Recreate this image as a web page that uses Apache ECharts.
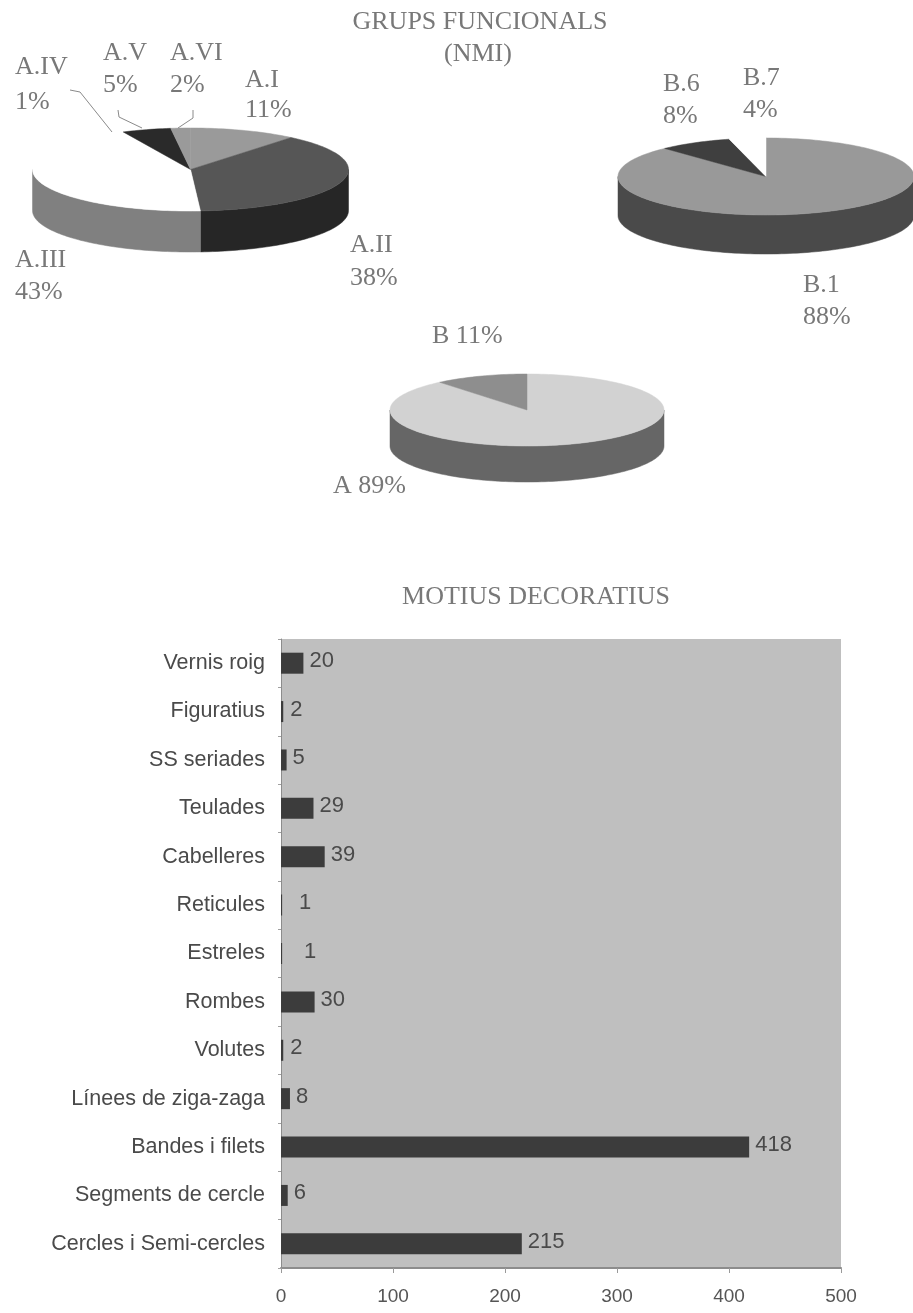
<!DOCTYPE html>
<html><head><meta charset="utf-8">
<style>html,body{margin:0;padding:0;background:#fff}#c{width:913px;height:1313px;filter:blur(.7px)}</style>
<script src="https://cdn.jsdelivr.net/npm/echarts@6/dist/echarts.min.js"></script>
</head><body><div id="c"></div>
<script>
const motiuCategories = ['Vernis roig','Figuratius','SS seriades','Teulades','Cabelleres','Reticules','Estreles','Rombes','Volutes','Línees de ziga-zaga','Bandes i filets','Segments de cercle','Cercles i Semi-cercles'];
const motiuValues = [20,2,5,29,39,1,1,30,2,8,418,6,215];
const xTicks = [0,100,200,300,400,500];

const groupANames = ['A.I','A.II','A.III','A.IV','A.V','A.VI'];
const groupAPercents = [11,38,43,1,5,2];
const groupBNames = ['B.1','B.6','B.7'];
const groupBPercents = [88,8,4];
const totalNames = ['A','B'];
const totalPercents = [89,11];

const labelLabelStyle = {fontFamily:'Liberation Serif',fontSize:26,fill:'#787878'};
const extraOffset = {'Figuratius':1,'Reticules':11,'Estreles':16,'Volutes':1};

function pieSeries(cfg, values){
  const total = values.reduce((a,b)=>a+b,0);
  return {
    type:'custom', coordinateSystem:'none', silent:true, animation:false,
    data: values.map((v,i)=>[i,v]),
    renderItem(params, api){
      const i = api.value(0);
      let before = 0; for(let k=0;k<i;k++) before += values[k];
      const a0 = cfg.start + before/total*360, a1 = a0 + api.value(1)/total*360;
      const pt = (d,dy)=>{const r=d*Math.PI/180; return [cfg.cx+cfg.rx*Math.sin(r), cfg.cy-cfg.ry*Math.cos(r)+(dy||0)];};
      const arc = (s,e,dy)=>{const out=[],n=Math.max(2,Math.ceil((e-s)/1.5)); for(let j=0;j<=n;j++) out.push(pt(s+(e-s)*j/n,dy)); return out;};
      const children = [];
      const s = Math.max(a0,90), e = Math.min(a1,270);
      if(e>s){
        children.push({type:'polygon',shape:{points:arc(s,e,0).concat(arc(s,e,cfg.depth).reverse())},style:{fill:cfg.side[i],stroke:cfg.side[i],lineWidth:.5}});
      }
      children.push({type:'polygon',shape:{points:[[cfg.cx,cfg.cy]].concat(arc(a0,a1,0))},style:{fill:cfg.top[i],stroke:cfg.top[i],lineWidth:.5}});
      return {type:'group',children};
    }
  };
}
const pieA = {cx:190.5,cy:169.5,rx:158,ry:41.5,depth:41,start:0,
  top:['#9a9a9a','#565656','#ffffff','#ffffff','#2a2a2a','#9a9a9a'],
  side:['#777','#262626','#808080','#888','#222','#777']};
const pieB = {cx:766,cy:176.5,rx:148,ry:38.5,depth:39,start:0,
  top:['#999999','#3f3f3f','#ffffff'], side:['#4a4a4a','#333','#fff']};
const pieT = {cx:527,cy:410,rx:137,ry:36,depth:36,start:0,
  top:['#d2d2d2','#8e8e8e'], side:['#666666','#555']};

function txt(x,y,t,align){return {type:'text',x,y,style:Object.assign({},labelLabelStyle,{text:t,textAlign:align||'left',textVerticalAlign:'middle'})};}
function two(x,y1,y2,name,pct){return [txt(x,y1,name),txt(x,y2,pct+'%')];}
function leader(pts){return {type:'polyline',shape:{points:pts},style:{stroke:'#8a8a8a',lineWidth:1,fill:null}};}

const graphics = [
  txt(480,22,'GRUPS FUNCIONALS','center'), txt(478,54,'(NMI)','center'),
  txt(536,597,'MOTIUS DECORATIUS','center'),
  ...two(245,80,110,groupANames[0],groupAPercents[0]),
  ...two(350,245,278,groupANames[1],groupAPercents[1]),
  ...two(15,260,292,groupANames[2],groupAPercents[2]),
  ...two(15,67,102,groupANames[3],groupAPercents[3]),
  ...two(103,53,85,groupANames[4],groupAPercents[4]),
  ...two(170,53,85,groupANames[5],groupAPercents[5]),
  ...two(803,285,317,groupBNames[0],groupBPercents[0]),
  ...two(663,84,116,groupBNames[1],groupBPercents[1]),
  ...two(743,78,110,groupBNames[2],groupBPercents[2]),
  txt(432,336,totalNames[1]+' '+totalPercents[1]+'%'),
  txt(333,486,totalNames[0]+' '+totalPercents[0]+'%'),
  leader([[70,90],[80,92],[112,132]]),
  leader([[118,110],[119,117],[142,128]]),
  leader([[193,110],[193,118],[178,128]])
];

const chart = echarts.init(document.getElementById('c'),null,{width:913,height:1313,renderer:'canvas'});
chart.setOption({
  animation:false, backgroundColor:'#fff',
  grid:{left:281,top:639,width:560,height:629,backgroundColor:'#bfbfbf',show:true,borderWidth:0},
  xAxis:{type:'value',min:0,max:500,interval:100,splitLine:{show:false},
    axisLine:{show:true,lineStyle:{color:'#8c8c8c',width:2}},
    axisTick:{show:true,length:5,lineStyle:{color:'#9a9a9a'}},
    axisLabel:{margin:19,fontFamily:'Liberation Sans',fontSize:19,color:'#555',
      customValues:xTicks,formatter:v=>String(v)}},
  yAxis:{type:'category',inverse:true,data:motiuCategories,
    axisLine:{show:true,lineStyle:{color:'#8c8c8c',width:1}},
    axisTick:{show:true,length:3,lineStyle:{color:'#a0a0a0'}},
    axisLabel:{margin:16,fontFamily:'Liberation Sans',fontSize:21.5,color:'#4a4a4a'}},
  graphic:{elements:graphics},
  series:[
    {type:'bar',barWidth:21,itemStyle:{color:'#3c3c3c'},
     data:motiuValues.map((v,i)=>({value:v,label:{offset:[extraOffset[motiuCategories[i]]||0,-2]}})),
     label:{show:true,position:'right',distance:6,fontFamily:'Liberation Sans',fontSize:22,color:'#4a4a4a'}},
    pieSeries(pieA,groupAPercents),
    pieSeries(pieB,groupBPercents),
    pieSeries(pieT,totalPercents)
  ]
});
</script></body></html>
